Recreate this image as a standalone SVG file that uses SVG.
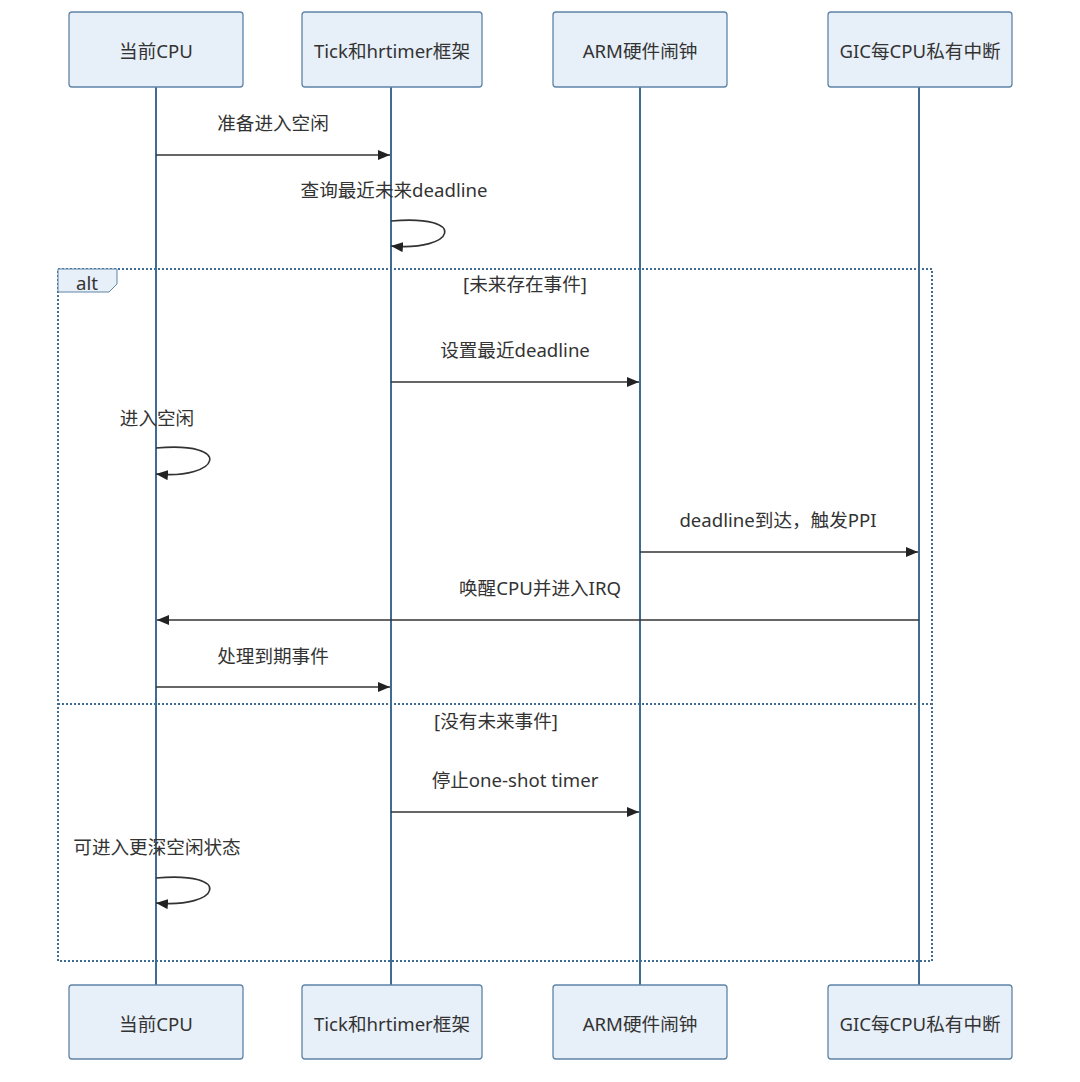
<svg xmlns="http://www.w3.org/2000/svg" width="1080" height="1082" viewBox="0 0 1080 1082">
<style>
.box{fill:#e7eff8;stroke:#5f84a6;stroke-width:1.3}
.lbl{font-family:"Noto Sans","Noto Sans CJK SC",sans-serif;font-size:18.6px;fill:#333;text-anchor:middle;dominant-baseline:central}
.life{stroke:#3e6c95;stroke-width:2}
.msg{stroke:#333;stroke-width:1.6;fill:none}
.frame{stroke:#3e6c95;stroke-width:2;stroke-dasharray:2 2;fill:none}
</style>
<defs>
<marker id="ah" viewBox="0 0 12 10" refX="12" refY="5" markerWidth="12" markerHeight="10" markerUnits="userSpaceOnUse" orient="auto">
<path d="M0,0 L12,5 L0,10 z" fill="#222"/>
</marker>
</defs>
<rect width="1080" height="1082" fill="#fff"/>
<g id="lifelines">
<line class="life" x1="156" y1="87" x2="156" y2="985"/>
<line class="life" x1="391" y1="87" x2="391" y2="985"/>
<line class="life" x1="640" y1="87" x2="640" y2="985"/>
<line class="life" x1="919" y1="87" x2="919" y2="985"/>
</g>
<g id="alt-frame">
<rect class="frame" x="58" y="269" width="874" height="692"/>
<path d="M58,269 H117 V284 L109,292 H58 Z" fill="#e7eff8" stroke="#5f84a6" stroke-width="1"/>
<text class="lbl" x="87" y="282">alt</text>
<line class="frame" x1="58" y1="704" x2="932" y2="704"/>
<text class="lbl" x="525" y="283">[未来存在事件]</text>
<text class="lbl" x="496" y="720">[没有未来事件]</text>
</g>
<g id="n1"><rect class="box" x="69" y="12" width="174" height="75" rx="3"/><text class="lbl" x="156" y="50">当前CPU</text></g>
<g id="n2"><rect class="box" x="302" y="12" width="180" height="75" rx="3"/><text class="lbl" x="392" y="50">Tick和hrtimer框架</text></g>
<g id="n3"><rect class="box" x="553" y="12" width="174" height="75" rx="3"/><text class="lbl" x="640" y="50">ARM硬件闹钟</text></g>
<g id="n4"><rect class="box" x="828" y="12" width="184" height="75" rx="3"/><text class="lbl" x="920" y="50">GIC每CPU私有中断</text></g>
<g id="n1b"><rect class="box" x="69" y="985" width="174" height="74" rx="3"/><text class="lbl" x="156" y="1023">当前CPU</text></g>
<g id="n2b"><rect class="box" x="302" y="985" width="180" height="74" rx="3"/><text class="lbl" x="392" y="1023">Tick和hrtimer框架</text></g>
<g id="n3b"><rect class="box" x="553" y="985" width="174" height="74" rx="3"/><text class="lbl" x="640" y="1023">ARM硬件闹钟</text></g>
<g id="n4b"><rect class="box" x="828" y="985" width="184" height="74" rx="3"/><text class="lbl" x="920" y="1023">GIC每CPU私有中断</text></g>
<g id="connectors">
<line class="msg" x1="156" y1="155" x2="390" y2="155" marker-end="url(#ah)"/>
<text class="lbl" x="273" y="122">准备进入空闲</text>
<path class="msg" d="M391,221 C470,214 455,252 391,246" marker-end="url(#ah)"/>
<text class="lbl" x="394" y="189">查询最近未来deadline</text>
<line class="msg" x1="391" y1="382" x2="639" y2="382" marker-end="url(#ah)"/>
<text class="lbl" x="515" y="349">设置最近deadline</text>
<path class="msg" d="M156,448 C235,441 220,480 156,474" marker-end="url(#ah)"/>
<text class="lbl" x="157" y="417">进入空闲</text>
<line class="msg" x1="640" y1="552" x2="918" y2="552" marker-end="url(#ah)"/>
<text class="lbl" x="778" y="519">deadline到达，触发PPI</text>
<line class="msg" x1="919" y1="620" x2="157" y2="620" marker-end="url(#ah)"/>
<text class="lbl" x="540" y="587">唤醒CPU并进入IRQ</text>
<line class="msg" x1="156" y1="687" x2="390" y2="687" marker-end="url(#ah)"/>
<text class="lbl" x="273" y="655">处理到期事件</text>
<line class="msg" x1="391" y1="812" x2="639" y2="812" marker-end="url(#ah)"/>
<text class="lbl" x="515" y="779">停止one-shot timer</text>
<path class="msg" d="M156,878 C235,871 220,909 156,903" marker-end="url(#ah)"/>
<text class="lbl" x="157" y="846">可进入更深空闲状态</text>
</g>
</svg>
